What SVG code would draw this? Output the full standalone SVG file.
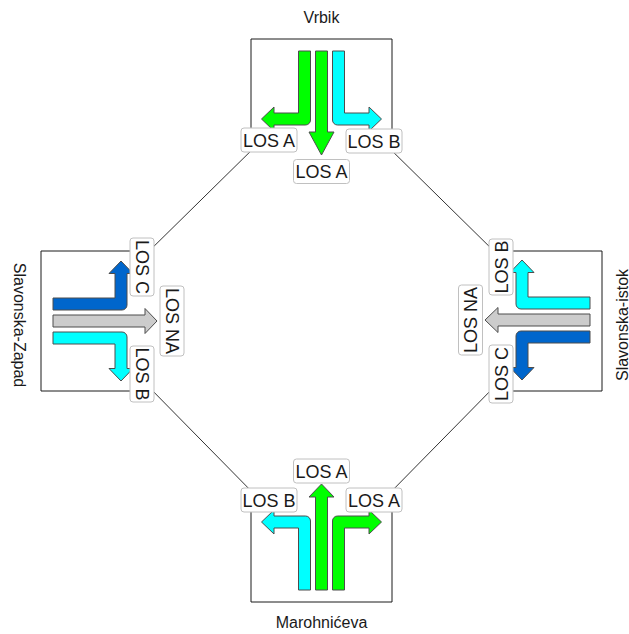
<svg xmlns="http://www.w3.org/2000/svg" width="629" height="634" viewBox="0 0 629 634">
<style>
.bg{fill:#ffffff}
.box{fill:none;stroke:#1a1a1a;stroke-width:1}
.conn{stroke:#333333;stroke-width:1;fill:none}
.arr{stroke:#4d4d4d;stroke-width:1;stroke-linejoin:miter}
.g{fill:#00ff00}
.c{fill:#00ffff}
.b{fill:#0066cc}
.s{fill:#cccccc}
.lbl{fill:#ffffff;stroke:#c0c0c0;stroke-width:1}
.lt{font-family:"Liberation Sans",Arial,sans-serif;font-size:18px;fill:#1a1a1a;text-anchor:middle}
.tt{font-family:"Liberation Sans",Arial,sans-serif;font-size:16px;fill:#1a1a1a;text-anchor:middle}
</style>
<rect class="bg" x="0" y="0" width="629" height="634"/>
<g id="connectors">
<line class="conn" x1="262" y1="140" x2="142" y2="258"/>
<line class="conn" x1="381" y1="140" x2="501" y2="258"/>
<line class="conn" x1="142" y1="380" x2="262" y2="502"/>
<line class="conn" x1="501" y1="380" x2="381" y2="502"/>
</g>
<g id="vrbik">
<path class="box" d="M251,140 V39 H392 V140"/>
<path class="arr g" d="M298.5,51 H310.5 V120 A5,5 0 0 1 305.5,125 H274 V131 L261.5,119 L274,107 V113 H298.5 Z"/>
<path class="arr g" d="M315.5,51 H327.5 V132 H334 L321.5,155 L309,132 H315.5 Z"/>
<path class="arr c" d="M344.5,51 H332.5 V120 A5,5 0 0 0 337.5,125 H369 V131 L381.5,119 L369,107 V113 H344.5 Z"/>
<rect class="lbl" x="241" y="128" width="56" height="24" rx="3"/>
<text class="lt" x="269" y="146.5">LOS A</text>
<rect class="lbl" x="346" y="129" width="56" height="24" rx="3"/>
<text class="lt" x="374" y="147.5">LOS B</text>
<rect class="lbl" x="293.5" y="159.5" width="56" height="24" rx="3"/>
<text class="lt" x="321.5" y="178">LOS A</text>
<text class="tt" x="321.5" y="23">Vrbik</text>
</g>
<g id="marohniceva">
<path class="box" d="M251,502 V602 H392 V502"/>
<path class="arr c" d="M298.5,590 H310.5 V521 A5,5 0 0 0 305.5,516 H274 V510 L261.5,522 L274,534 V528 H298.5 Z"/>
<path class="arr g" d="M315.5,590 H327.5 V497 H334 L321.5,484 L309,497 H315.5 Z"/>
<path class="arr g" d="M344.5,590 H332.5 V521 A5,5 0 0 1 337.5,516 H369 V510 L381.5,522 L369,534 V528 H344.5 Z"/>
<rect class="lbl" x="241" y="488" width="56" height="24" rx="3"/>
<text class="lt" x="269" y="506.5">LOS B</text>
<rect class="lbl" x="346" y="488" width="56" height="24" rx="3"/>
<text class="lt" x="374" y="506.5">LOS A</text>
<rect class="lbl" x="293.5" y="459" width="56" height="24" rx="3"/>
<text class="lt" x="321.5" y="477.5">LOS A</text>
<text class="tt" x="321.5" y="628">Marohnićeva</text>
</g>
<g id="slavonska-zapad">
<path class="box" d="M141,251 H41 V391 H141"/>
<path class="arr b" d="M53,298 V310 H122 A5,5 0 0 0 127,305 V273.5 H133 L121,261 L109,273.5 H115 V298 Z"/>
<path class="arr s" d="M53,315 V327 H145 V333.5 L157,321 L145,308.5 V315 Z"/>
<path class="arr c" d="M53,344 V332 H122 A5,5 0 0 1 127,337 V368.5 H133 L121,381 L109,368.5 H115 V344 Z"/>
<rect class="lbl" x="130" y="238" width="24" height="58" rx="3"/>
<text class="lt" transform="translate(142,267) rotate(90)" x="0" y="6.5">LOS C</text>
<rect class="lbl" x="130" y="346" width="24" height="56" rx="3"/>
<text class="lt" transform="translate(142,374) rotate(90)" x="0" y="6.5">LOS B</text>
<rect class="lbl" x="160" y="286" width="24" height="70" rx="3"/>
<text class="lt" transform="translate(172,321) rotate(90)" x="0" y="6.5">LOS NA</text>
<text class="tt" transform="translate(19,325) rotate(90)" x="0" y="5.5">Slavonska-Zapad</text>
</g>
<g id="slavonska-istok">
<path class="box" d="M502,251 H602 V391 H502"/>
<path class="arr c" d="M590,297 V309 H521 A5,5 0 0 1 516,304 V272.5 H510 L522,260 L534,272.5 H528 V297 Z"/>
<path class="arr s" d="M590,314 V326 H498 V332.5 L485,320 L498,307.5 V314 Z"/>
<path class="arr b" d="M590,343 V331 H521 A5,5 0 0 0 516,336 V367.5 H510 L522,380 L534,367.5 H528 V343 Z"/>
<rect class="lbl" x="489" y="239" width="24" height="56" rx="3"/>
<text class="lt" transform="translate(501,267) rotate(-90)" x="0" y="6.5">LOS B</text>
<rect class="lbl" x="489" y="345" width="24" height="58" rx="3"/>
<text class="lt" transform="translate(501,374) rotate(-90)" x="0" y="6.5">LOS C</text>
<rect class="lbl" x="458.5" y="285" width="24" height="70" rx="3"/>
<text class="lt" transform="translate(470.5,320) rotate(-90)" x="0" y="6.5">LOS NA</text>
<text class="tt" transform="translate(622,325) rotate(-90)" x="0" y="5.5">Slavonska-istok</text>
</g>
</svg>
